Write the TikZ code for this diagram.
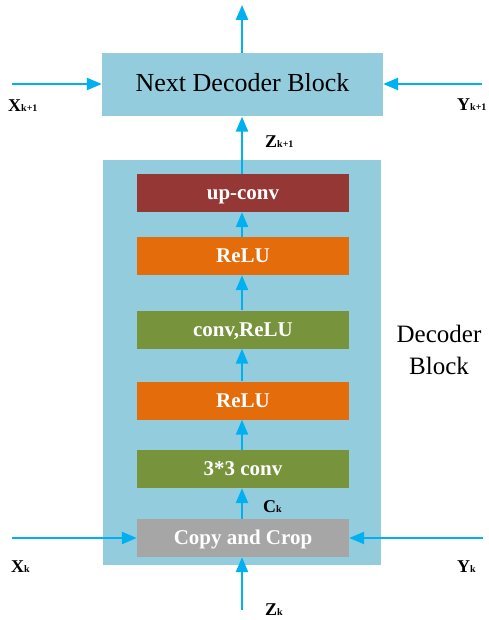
\documentclass[tikz,border=0pt]{standalone}
\usepackage{fontspec}
\setmainfont{LiberationSerif}[Extension=.ttf, UprightFont=*-Regular, BoldFont=*-Bold,
  ItalicFont=*-Italic, BoldItalicFont=*-BoldItalic]
\usetikzlibrary{arrows.meta}
\definecolor{blockblue}{HTML}{93CDDD}
\definecolor{flowblue}{HTML}{00B0F0}
\definecolor{upred}{HTML}{953735}
\definecolor{reluorange}{HTML}{E46C0A}
\definecolor{convgreen}{HTML}{77933C}
\definecolor{cropgray}{HTML}{A6A6A6}
\tikzset{
  layer/.style={minimum width=212pt, minimum height=38pt, inner sep=0pt,
    text height=15pt, text depth=2pt,
    text=white, font=\fontsize{21}{24}\selectfont\bfseries},
  flow/.style={draw=flowblue, line width=2.5pt,
    -{Triangle[length=15pt,width=12pt]}},
  sym/.style={anchor=base west, inner sep=0pt, font=\fontsize{18}{20}\selectfont\bfseries},
}
\newcommand{\subk}[1]{{\fontsize{10}{11}\selectfont\bfseries #1}}
\begin{document}
\begin{tikzpicture}[x=1pt, y=-1pt]
\useasboundingbox (0,0) rectangle (489,620);
% blocks
\node[fill=blockblue, minimum width=281pt, minimum height=63pt, inner sep=0pt,
  text height=17pt, text depth=3pt,
  font=\fontsize{26}{30}\selectfont] (next) at (242.5,85) {Next Decoder Block};
\node[fill=blockblue, minimum width=278pt, minimum height=405pt, inner sep=0pt] (dec) at (242,362.5) {};
\node[align=center, font=\fontsize{25}{32}\selectfont] (declab) at (439,350) {Decoder\\Block};
% layers of the decoder block
\node[layer, fill=upred] (upconv) at (243,193) {up-conv};
\node[layer, fill=reluorange] (relua) at (243,256) {ReLU};
\node[layer, fill=convgreen] (convrelu) at (243,329.5) {conv,ReLU};
\node[layer, fill=reluorange] (relub) at (243,400.5) {ReLU};
\node[layer, fill=convgreen] (conv) at (243,469) {3*3 conv};
\node[layer, fill=cropgray] (crop) at (243,538) {Copy and Crop};
% free ends of the inputs and output
\coordinate (out) at (242,5);
\coordinate (xin1) at (12,84);
\coordinate (yin1) at (482,84);
\coordinate (xin) at (12,538);
\coordinate (yin) at (483,538);
\coordinate (zin) at (242,610);
% connectors
\draw[flow] (next.north -| out) -- (out);
\draw[flow] (xin1) -- (xin1 -| next.west);
\draw[flow] (yin1) -- (yin1 -| next.east);
\draw[flow] (upconv.north -| out) -- (out |- next.south);
\draw[flow] (relua.north -| out) -- (out |- upconv.south);
\draw[flow] (convrelu.north -| out) -- (out |- relua.south);
\draw[flow] (relub.north -| out) -- (out |- convrelu.south);
\draw[flow] (conv.north -| out) -- (out |- relub.south);
\draw[flow] (crop.north -| out) -- (out |- conv.south);
\draw[flow] (xin) -- (crop.west);
\draw[flow] (yin) -- (crop.east);
\draw[flow] (zin) -- (zin |- crop.south);
% labels
\node[sym] (lx1) at (8,112) {X\subk{k+1}};
\node[sym] (ly1) at (457,111) {Y\subk{k+1}};
\node[sym] (lz1) at (265,148) {Z\subk{k+1}};
\node[sym] (lc) at (263,512) {C\subk{k}};
\node[sym] (lx) at (11,572) {X\subk{k}};
\node[sym] (ly) at (457,572) {Y\subk{k}};
\node[sym] (lz) at (265,615) {Z\subk{k}};
\end{tikzpicture}
\end{document}
